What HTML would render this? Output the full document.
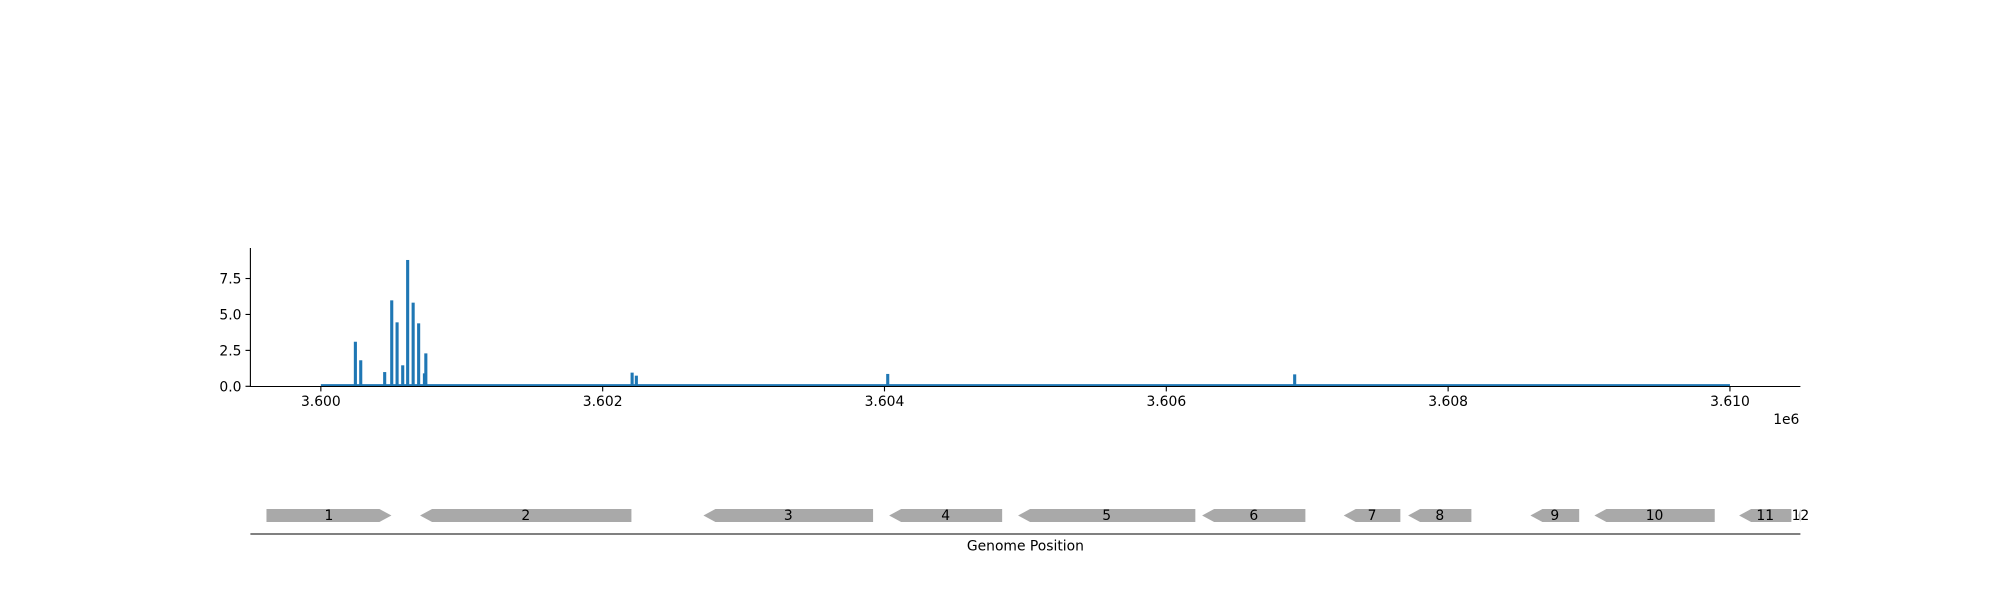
<!DOCTYPE html>
<html>
<head>
<meta charset="utf-8">
<title>Genome coverage chart</title>
<style>
html,body{margin:0;padding:0;background:#fff;}
svg{display:block;}
text{font-family:"DejaVu Sans","Liberation Sans",sans-serif;font-size:13.89px;fill:#000;}
</style>
</head>
<body>
<svg id="chart" xmlns="http://www.w3.org/2000/svg" width="2000" height="600" viewBox="0 0 2000 600">
<rect x="0" y="0" width="2000" height="600" fill="#ffffff"/>
<g id="coverage"></g>
<g id="track"></g>
</svg>
<script>
// Data
const peakPositions = [3600245,3600283,3600453,3600503,3600541,3600581,3600616,3600655,3600694,3600735,3600745,3602209,3602239,3604023,3606911];
const peakValues = [3.08,1.79,0.97,5.96,4.43,1.44,8.77,5.8,4.36,0.88,2.27,0.93,0.72,0.84,0.81];
const coverageRange = [3600000,3610000];
const coverageFloor = [0.13];
const xTickValues = [3600000,3602000,3604000,3606000,3608000,3610000];
const xTickLabels = ['3.600','3.602','3.604','3.606','3.608','3.610'];
const yTickValues = [0,2.5,5,7.5];
const yTickLabels = ['0.0','2.5','5.0','7.5'];
const geneNames = ['1','2','3','4','5','6','7','8','9','10','11','12'];
const geneStarts = [3599614,3600704,3602715,3604033,3604948,3606254,3607259,3607716,3608584,3609038,3610065,3610486];
const geneEnds = [3600501,3602204,3603919,3604835,3606206,3606987,3607661,3608165,3608930,3609892,3610436,3610514];
const geneStrands = [1,-1,-1,-1,-1,-1,-1,-1,-1,-1,-1,-1];

// Axis functions
const xDomain = [3599500,3610500];
const plotLeft = 250.4, plotRight = 1800.4;
const plotBase = 386, pxPerUnit = 14.37, plotTop = 248;
function xScale(v){ return plotLeft + (v - xDomain[0]) / (xDomain[1] - xDomain[0]) * (plotRight - plotLeft); }
function yScale(v){ return plotBase - v * pxPerUnit; }

const NS = 'http://www.w3.org/2000/svg';
const coverage = document.getElementById('coverage');
const track = document.getElementById('track');
function mk(tag, parent){ const e = document.createElementNS(NS, tag); parent.appendChild(e); return e; }
function set(e, o){ for (const k in o) e.setAttribute(k, o[k]); }

// Clip for gene track
const defs = mk('defs', track);
const clip = mk('clipPath', defs);
clip.setAttribute('id', 'track-clip');
const clipRect = mk('rect', clip);
set(clipRect, {x: plotLeft, y: 490, width: plotRight - plotLeft, height: 60});

// Coverage floor band
const floorBand = mk('rect', coverage);


set(floorBand, {x: xScale(coverageRange[0]), y: yScale(coverageFloor[0]), width: xScale(coverageRange[1]) - xScale(coverageRange[0]), height: plotBase - yScale(coverageFloor[0]), fill: '#1f77b4'});

// Peaks
peakPositions.forEach(function(p, i){
  const r = mk('rect', coverage);
  
  
  const w = 3.1;
  set(r, {x: xScale(p) - w / 2, y: yScale(peakValues[i]), width: w, height: plotBase - yScale(peakValues[i]), fill: '#1f77b4'});
});

// Spines
const ySpine = mk('line', coverage);


set(ySpine, {x1: plotLeft, x2: plotLeft, y1: plotTop, y2: plotBase + 1, stroke: '#000', 'stroke-width': 1.11});
const xSpine = mk('line', coverage);


set(xSpine, {x1: plotLeft, x2: plotRight, y1: plotBase + 0.5, y2: plotBase + 0.5, stroke: '#000', 'stroke-width': 1.11});

// X ticks
xTickValues.forEach(function(v, i){
  const t = mk('line', coverage);
  
  
  set(t, {x1: xScale(v), x2: xScale(v), y1: plotBase + 0.5, y2: plotBase + 5.4, stroke: '#000', 'stroke-width': 1.11});
  const l = mk('text', coverage);
  
  
  set(l, {x: xScale(v), y: 406, 'text-anchor': 'middle'});
  l.textContent = xTickLabels[i];
});

// Y ticks
yTickValues.forEach(function(v, i){
  const t = mk('line', coverage);
  
  
  set(t, {x1: plotLeft - 4.9, x2: plotLeft, y1: yScale(v) + 0.3, y2: yScale(v) + 0.3, stroke: '#000', 'stroke-width': 1.11});
  const l = mk('text', coverage);
  
  
  set(l, {x: plotLeft - 8.9, y: yScale(v) + 5.3, 'text-anchor': 'end'});
  l.textContent = yTickLabels[i];
});

// Offset text
const offsetText = mk('text', coverage);


set(offsetText, {x: 1799.4, y: 424, 'text-anchor': 'end'});
offsetText.textContent = '1e6';

// Genes
const geneTop = 509, geneBottom = 522, headPx = 12;
geneNames.forEach(function(n, i){
  const a = xScale(geneStarts[i]), b = xScale(geneEnds[i]);
  const head = Math.min(headPx, (b - a) * 0.5);
  const mid = (geneTop + geneBottom) / 2;
  let pts;
  if (geneStrands[i] > 0) {
    pts = [[a,geneTop],[b-head,geneTop],[b,mid],[b-head,geneBottom],[a,geneBottom]];
  } else {
    pts = [[a,mid],[a+head,geneTop],[b,geneTop],[b,geneBottom],[a+head,geneBottom]];
  }
  const g = mk('polygon', track);
  
  
  set(g, {points: pts.map(function(p){ return p.join(','); }).join(' '), fill: '#a9a9a9', 'clip-path': 'url(#track-clip)'});
});
geneNames.forEach(function(n, i){
  const l = mk('text', track);
  
  
  set(l, {x: (xScale(geneStarts[i]) + xScale(geneEnds[i])) / 2, y: 520, 'text-anchor': 'middle'});
  l.textContent = n;
});

// Track axis
const trackLine = mk('line', track);


set(trackLine, {x1: plotLeft, x2: plotRight, y1: 534, y2: 534, stroke: '#000', 'stroke-width': 1.11});
const xTitle = mk('text', track);


set(xTitle, {x: 1025.4, y: 550.5, 'text-anchor': 'middle'});
xTitle.textContent = 'Genome Position';
</script>
</body>
</html>
